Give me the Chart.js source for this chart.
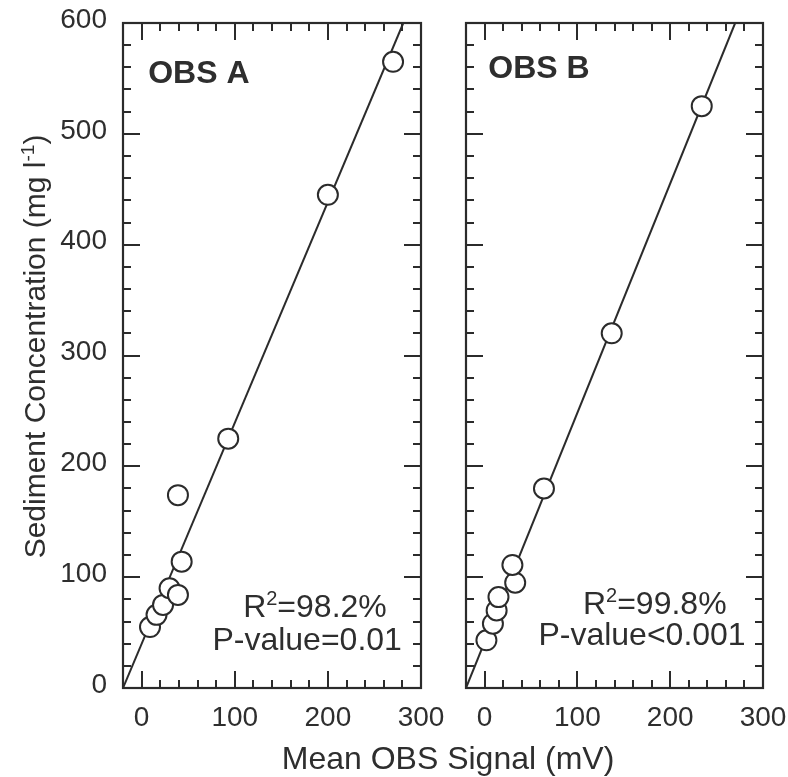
<!DOCTYPE html>
<html>
<head>
<meta charset="utf-8">
<script src="https://cdn.jsdelivr.net/npm/chart.js@4/dist/chart.umd.min.js"></script>
<style>
  html, body { margin: 0; padding: 0; background: #ffffff; }
  #wrap { position: relative; width: 788px; height: 777px; overflow: hidden; background: #fff; }
  canvas { position: absolute; top: 0; }
  #xtitle { position: absolute; left: 248px; top: 742px; width: 400px; text-align: center;
            font: 32px "Liberation Sans", Arial, sans-serif; line-height: 32px; color: #2e2e2e; white-space: nowrap; }
</style>
</head>
<body>
<div id="wrap">
  <canvas id="cA" width="460" height="777" style="left:0px"></canvas>
  <canvas id="cB" width="358" height="777" style="left:430px"></canvas>
  <div id="xtitle">Mean OBS Signal (mV)</div>
</div>
<script>
// ---------------- data ----------------
const obsA_signal = [9, 16, 23, 30, 39, 43, 39, 93, 200, 270];
const obsA_conc   = [55, 66, 75, 90, 84, 114, 174, 225, 445, 565];
const obsA_fitX   = [-20, 281];
const obsA_fitY   = [0, 600];

const obsB_signal = [2, 9, 13, 15, 33, 30, 64, 137, 234];
const obsB_conc   = [43, 58, 70, 82, 95, 111, 180, 320, 525];
const obsB_fitX   = [-20, 270];
const obsB_fitY   = [0, 600];

const xTickValues = [0, 100, 200, 300];
const yTickValues = [0, 100, 200, 300, 400, 500, 600];
const panelLabels = ['OBS A', 'OBS B'];
const r2Labels    = ['98.2%', '99.8%'];
const pLabels     = ['P-value=0.01', 'P-value<0.001'];
const yTitle      = ['Sediment Concentration (mg l', '-1', ')'];

// ---------------- styling ----------------
const INK = '#2b2b2b';
const TXT = '#2e2e2e';
const FONT = '"Liberation Sans", Arial, sans-serif';

function pts(xs, ys) { return xs.map((x, i) => ({ x: x, y: ys[i] })); }

function drawParts(ctx, parts, x, y, size) {
  let cx = x;
  parts.forEach(([t, sup]) => {
    ctx.font = (sup ? Math.round(size * 0.62) : size) + 'px ' + FONT;
    ctx.fillText(t, cx, sup ? y - size * 0.38 : y);
    cx += ctx.measureText(t).width;
  });
  return cx - x;
}
function measureParts(ctx, parts, size) {
  let w = 0;
  parts.forEach(([t, sup]) => {
    ctx.font = (sup ? Math.round(size * 0.62) : size) + 'px ' + FONT;
    w += ctx.measureText(t).width;
  });
  return w;
}

const framePlugin = {
  id: 'frame',
  afterDatasetsDraw(chart, args, o) {
    const { ctx, chartArea: a } = chart;
    const x = chart.scales.x, y = chart.scales.y;
    ctx.save();
    ctx.strokeStyle = INK;
    ctx.lineWidth = 2;
    ctx.lineCap = 'butt';
    ctx.beginPath();
    for (let v = 0; v < 300; v += 20) {
      const px = Math.round(x.getPixelForValue(v));
      const len = (v % 100 === 0) ? 17 : 8;
      ctx.moveTo(px, a.bottom); ctx.lineTo(px, a.bottom - len);
      ctx.moveTo(px, a.top); ctx.lineTo(px, a.top + len);
    }
    for (let v = 20; v < 600; v += 20) {
      const py = Math.round(y.getPixelForValue(v));
      const len = (v % 100 === 0) ? 17 : 8;
      ctx.moveTo(a.left, py); ctx.lineTo(a.left + len, py);
      ctx.moveTo(a.right, py); ctx.lineTo(a.right - len, py);
    }
    ctx.stroke();
    ctx.lineWidth = 2.2;
    ctx.strokeRect(a.left, a.top, a.right - a.left, a.bottom - a.top);

    ctx.fillStyle = TXT;
    ctx.textBaseline = 'alphabetic';
    ctx.textAlign = 'left';
    ctx.font = 'bold 32px ' + FONT;
    ctx.fillText(o.panel, x.getPixelForValue(o.panelAt[0]), y.getPixelForValue(o.panelAt[1]));
    drawParts(ctx, [['R', false], ['2', true], ['=' + o.r2, false]],
      x.getPixelForValue(o.r2At[0]), y.getPixelForValue(o.r2At[1]), 32);
    ctx.font = '32px ' + FONT;
    ctx.fillText(o.p, x.getPixelForValue(o.pAt[0]), y.getPixelForValue(o.pAt[1]));

    if (o.yTitle) {
      const parts = [[yTitle[0], false], [yTitle[1], true], [yTitle[2], false]];
      const w = measureParts(ctx, parts, 30);
      const cy = (a.top + a.bottom) / 2 - 9;
      ctx.translate(0, cy);
      ctx.rotate(-Math.PI / 2);
      drawParts(ctx, parts, -w / 2, 45, 30);
    }
    ctx.restore();
  }
};

function makeChart(id, sx, sy, fx, fy, idx, showY) {
  const padLeft = showY ? 0 : 36;
  const padRight = showY ? 39 : 25;
  return new Chart(document.getElementById(id), {
    type: 'scatter',
    data: {
      datasets: [
        {
          data: pts(sx, sy),
          pointRadius: 10,
          pointHoverRadius: 10,
          pointBorderWidth: 2,
          pointBackgroundColor: '#ffffff',
          pointBorderColor: INK,
          showLine: false,
          order: 0
        },
        {
          type: 'line',
          data: pts(fx, fy),
          borderColor: INK,
          borderWidth: 2,
          pointRadius: 0,
          fill: false,
          tension: 0,
          order: 1
        }
      ]
    },
    options: {
      responsive: false,
      animation: false,
      devicePixelRatio: 1,
      events: [],
      layout: { padding: { left: padLeft, right: padRight, top: 23, bottom: 0 } },
      plugins: {
        legend: { display: false },
        tooltip: { enabled: false },
        frame: {
          panel: panelLabels[idx],
          panelAt: idx === 0 ? [7, 546] : [4, 550],
          r2: r2Labels[idx],
          r2At: idx === 0 ? [109, 64] : [106, 67],
          p: pLabels[idx],
          pAt: idx === 0 ? [76, 34] : [58, 39],
          yTitle: showY
        }
      },
      scales: {
        x: {
          type: 'linear',
          min: -20, max: 300,
          grid: { display: false, drawTicks: false },
          border: { display: false },
          afterBuildTicks: s => { s.ticks = xTickValues.map(v => ({ value: v })); },
          afterFit: s => { s.height = 89; s.paddingLeft = 0; s.paddingRight = 0; },
          ticks: {
            color: TXT, padding: 13, maxRotation: 0, autoSkip: false,
            font: { family: FONT, size: 28 }
          }
        },
        y: {
          type: 'linear',
          min: 0, max: 600,
          display: showY,
          grid: { display: false, drawTicks: false },
          border: { display: false },
          afterBuildTicks: s => { s.ticks = yTickValues.map(v => ({ value: v })); },
          afterFit: s => { if (showY) s.width = 123; s.paddingTop = 0; s.paddingBottom = 0; },
          ticks: {
            color: TXT, padding: 16, labelOffset: -3, autoSkip: false,
            font: { family: FONT, size: 28 }
          }
        }
      }
    },
    plugins: [framePlugin]
  });
}

makeChart('cA', obsA_signal, obsA_conc, obsA_fitX, obsA_fitY, 0, true);
makeChart('cB', obsB_signal, obsB_conc, obsB_fitX, obsB_fitY, 1, false);
</script>
</body>
</html>
